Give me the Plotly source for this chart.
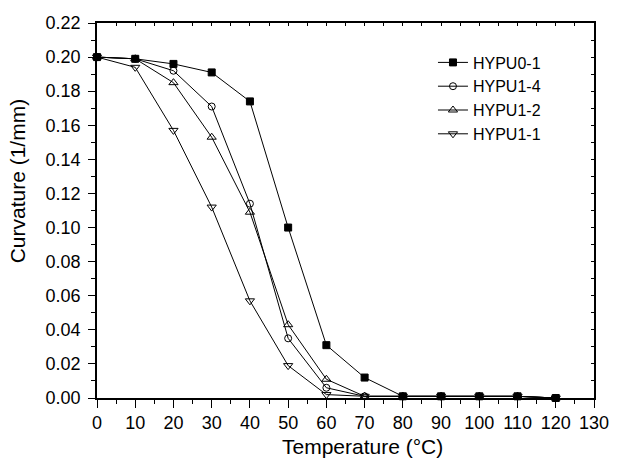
import plotly.graph_objects as go

temps = [0, 10, 20, 30, 40, 50, 60, 70, 80, 90, 100, 110, 120]
hypu0_1 = [0.200, 0.199, 0.196, 0.191, 0.174, 0.100, 0.031, 0.012, 0.001, 0.001, 0.001, 0.001, 0.000]
hypu1_4 = [0.200, 0.199, 0.192, 0.171, 0.114, 0.035, 0.006, 0.001, 0.001, 0.001, 0.001, 0.001, 0.000]
hypu1_2 = [0.200, 0.199, 0.185, 0.153, 0.109, 0.043, 0.011, 0.001, 0.001, 0.001, 0.001, 0.001, 0.000]
hypu1_1 = [0.200, 0.194, 0.157, 0.112, 0.057, 0.019, 0.002, 0.001, 0.001, 0.001, 0.001, 0.001, 0.000]

names = ["HYPU0-1", "HYPU1-4", "HYPU1-2", "HYPU1-1"]
values = [hypu0_1, hypu1_4, hypu1_2, hypu1_1]
symbols = ["square", "circle-open", "triangle-up-open", "triangle-down-open"]
sizes = [7, 7, 8, 8]

fig = go.Figure()
for name, vals, sym, sz in zip(names, values, symbols, sizes):
    fig.add_trace(go.Scatter(
        x=temps, y=vals, name=name, mode="lines+markers", cliponaxis=False,
        line=dict(color="black", width=1),
        marker=dict(symbol=sym, size=sz, color="black", line=dict(color="black", width=1)),
    ))

# invisible trace for the mirrored frame axes (inside ticks)
fig.add_trace(go.Scatter(x=[0], y=[0], xaxis="x2", yaxis="y2", showlegend=False,
                         mode="markers", marker=dict(opacity=0), hoverinfo="skip"))

font = "Liberation Sans, Arial, sans-serif"
fig.update_layout(
    width=621, height=461,
    margin=dict(l=97, r=18, t=23, b=63),
    paper_bgcolor="white", plot_bgcolor="white",
    font=dict(family=font, size=18, color="black"),
    showlegend=True,
    legend=dict(x=0.676, y=0.94, xanchor="left", yanchor="top",
                bgcolor="rgba(0,0,0,0)", font=dict(size=16), tracegroupgap=0,
                itemwidth=30),
    xaxis=dict(range=[0, 130], dtick=10, tick0=0, showgrid=False, zeroline=False,
               showline=True, linecolor="black", linewidth=1.5,
               ticks="outside", ticklen=8, tickwidth=1.2, tickcolor="black",
               minor=dict(ticks="outside", ticklen=4, dtick=5, tick0=0, tickcolor="black"),
               tickfont=dict(size=18)),
    yaxis=dict(range=[0, 0.22], dtick=0.02, tick0=0, tickformat=".2f", showgrid=False,
               zeroline=False, showline=True, linecolor="black", linewidth=1.5,
               ticks="outside", ticklen=7, tickwidth=1.2, tickcolor="black",
               minor=dict(ticks="outside", ticklen=4, dtick=0.01, tick0=0, tickcolor="black"),
               tickfont=dict(size=18), ticklabelstandoff=4),
    xaxis2=dict(range=[0, 130], dtick=5, tick0=0, overlaying="x", side="top", anchor="y2",
                showgrid=False, zeroline=False, showline=True, linecolor="black", linewidth=1.5,
                ticks="inside", ticklen=3, tickcolor="black", showticklabels=False),
    yaxis2=dict(range=[0, 0.22], dtick=0.01, tick0=0, overlaying="y", side="right", anchor="x2",
                showgrid=False, zeroline=False, showline=True, linecolor="black", linewidth=1.5,
                ticks="inside", ticklen=3, tickcolor="black", showticklabels=False),
    annotations=[
        dict(text="Temperature (°C)", xref="paper", yref="paper", x=0.535, y=-0.128,
             xanchor="center", yanchor="middle", showarrow=False, font=dict(size=21)),
        dict(text="Curvature (1/mm)", xref="paper", yref="paper", x=-0.16, y=0.579,
             xanchor="center", yanchor="middle", showarrow=False, textangle=-90,
             font=dict(size=21)),
    ],
)

fig.write_html("out.html")
